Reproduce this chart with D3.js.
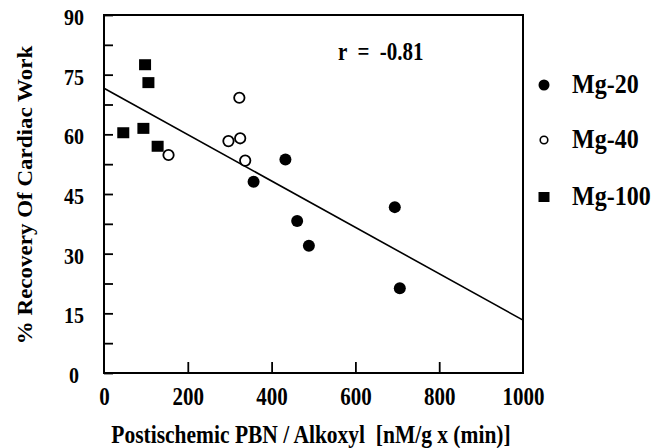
<!DOCTYPE html>
<html>
<head>
<meta charset="utf-8">
<script src="https://cdn.jsdelivr.net/npm/d3@7"></script>
<style>
  html, body { margin: 0; padding: 0; background: #fff; }
  svg { display: block; }
  text { font-family: "Liberation Serif", "Times New Roman", serif; font-weight: bold; fill: #000; }
</style>
</head>
<body>
<svg id="chart" width="665" height="448"></svg>
<script>
// ---- data ----
const seriesNames = ["Mg-20", "Mg-40", "Mg-100"];
const mg20X = [433, 357, 461, 489, 694, 706];
const mg20Y = [53.7, 48.1, 38.2, 32.0, 41.7, 21.3];
const mg40X = [154, 323, 297, 325, 337];
const mg40Y = [54.8, 69.2, 58.3, 59.0, 53.4];
const mg100X = [98, 106, 46, 94, 128];
const mg100Y = [77.5, 73.0, 60.4, 61.5, 57.0];
const fitX = [0, 1000];
const fitY = [71.6, 13.3];
const xTicks = [0, 200, 400, 600, 800, 1000];
const yTicks = [0, 15, 30, 45, 60, 75, 90];
const yMinorTicks = [0, 7.5, 15, 22.5, 30, 37.5, 45, 52.5, 60, 67.5, 75, 82.5, 90];
const rLabel = "r  =  -0.81";
const xTitle = "Postischemic PBN / Alkoxyl  [nM/g x (min)]";
const yTitle = "% Recovery Of Cardiac Work";

// ---- layout ----
const L = 104, R = 523, T = 15, B = 373;
const SY = 1.15; // vertical stretch of the scanned lettering
const svg = d3.select("#chart");
const x = d3.scaleLinear().domain([0, 1000]).range([L, R]);
const y = d3.scaleLinear().domain([0, 90]).range([B, T]);

// box
svg.append("rect").attr("x", L).attr("y", T).attr("width", R - L).attr("height", B - T)
  .attr("fill", "none").attr("stroke", "#000").attr("stroke-width", 2);

// y axis (ticks inward every 7.5, labels every 15)
const yAxis = svg.append("g").attr("transform", `translate(${L},0)`)
  .call(d3.axisLeft(y).tickValues(yMinorTicks).tickSize(-9)
    .tickFormat(d => yTicks.includes(d) ? String(d) : ""));
yAxis.select(".domain").remove();
yAxis.selectAll(".tick line").attr("stroke", "#000").attr("stroke-width", 1.8);
yAxis.selectAll(".tick text")
  .attr("x", null).attr("dy", null).attr("text-anchor", "middle")
  .attr("font-size", 20)
  .attr("transform", `translate(-30,9.5) scale(1,${SY})`);

// x axis
const xAxis = svg.append("g").attr("transform", `translate(0,${B})`)
  .call(d3.axisBottom(x).tickValues(xTicks).tickSize(-11).tickFormat(d3.format("d")));
xAxis.select(".domain").remove();
xAxis.selectAll(".tick line").attr("stroke", "#000").attr("stroke-width", 1.8)
  .attr("display", d => (d === 0 || d === 1000) ? "none" : null);
xAxis.selectAll(".tick text")
  .attr("y", null).attr("dy", null).attr("text-anchor", "middle")
  .attr("font-size", 21)
  .attr("transform", `translate(0,32) scale(1,${SY})`);

// regression line
const line = d3.line().x(d => x(d[0])).y(d => y(d[1]));
svg.append("path").datum(d3.zip(fitX, fitY)).attr("d", line)
  .attr("fill", "none").attr("stroke", "#000").attr("stroke-width", 1.6);

// points
const g = svg.append("g");
g.selectAll(".p20").data(d3.zip(mg20X, mg20Y)).join("circle")
  .attr("cx", d => x(d[0])).attr("cy", d => y(d[1])).attr("r", 6).attr("fill", "#000");
g.selectAll(".p40").data(d3.zip(mg40X, mg40Y)).join("circle")
  .attr("cx", d => x(d[0])).attr("cy", d => y(d[1])).attr("r", 5.2)
  .attr("fill", "#fff").attr("stroke", "#000").attr("stroke-width", 1.8);
g.selectAll(".p100").data(d3.zip(mg100X, mg100Y)).join("rect")
  .attr("x", d => x(d[0]) - 6).attr("y", d => y(d[1]) - 5.5)
  .attr("width", 12).attr("height", 11).attr("fill", "#000");

// r label
svg.append("text").attr("transform", `translate(338,60) scale(1,${SY})`)
  .attr("font-size", 21).style("white-space", "pre").attr("xml:space", "preserve").text(rLabel);

// legend
const legY = [85, 140, 197];
const lg = svg.append("g");
seriesNames.forEach((name, i) => {
  const cy = legY[i];
  if (i === 0) lg.append("circle").attr("cx", 544).attr("cy", cy).attr("r", 5.5).attr("fill", "#000");
  if (i === 1) lg.append("circle").attr("cx", 544).attr("cy", cy).attr("r", 3.8)
    .attr("fill", "#fff").attr("stroke", "#000").attr("stroke-width", 1.6);
  if (i === 2) lg.append("rect").attr("x", 538.5).attr("y", cy - 5).attr("width", 11).attr("height", 10).attr("fill", "#000");
  lg.append("text").attr("transform", `translate(572,${cy + 8}) scale(1,${SY})`)
    .attr("font-size", 24).text(name);
});

// axis titles
svg.append("text").attr("text-anchor", "middle")
  .attr("transform", `translate(311,443) scale(1,${SY})`)
  .attr("font-size", 21.5).style("white-space", "pre").attr("xml:space", "preserve").text(xTitle);
svg.append("text").attr("text-anchor", "middle")
  .attr("transform", `translate(32,195) rotate(-90) scale(${SY},1)`)
  .attr("font-size", 20).text(yTitle);
</script>
</body>
</html>
